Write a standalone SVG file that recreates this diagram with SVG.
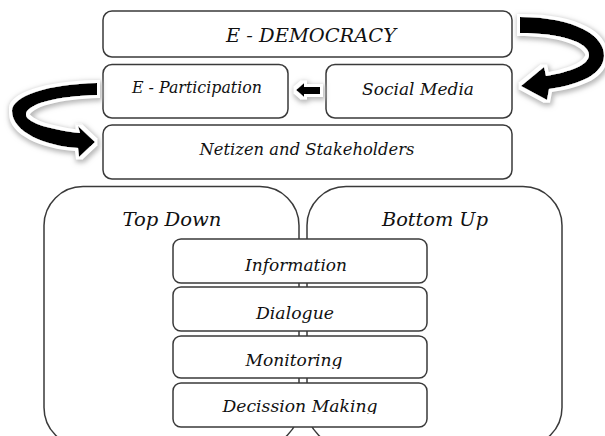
<svg xmlns="http://www.w3.org/2000/svg" width="605" height="436" viewBox="0 0 605 436">
<style>
.box{fill:#fff;stroke:#3a3a3a;stroke-width:1.5}
.big{fill:#fff;stroke:#3a3a3a;stroke-width:1.5}
.t{font-family:"DejaVu Serif","Liberation Serif",serif;font-style:italic;fill:#111;text-anchor:middle}
.arr{fill:#000}
</style>
<defs>
<filter id="glow" x="-30%" y="-30%" width="160%" height="160%">
<feMorphology in="SourceAlpha" operator="dilate" radius="4" result="d1"/>
<feOffset in="d1" dx="1" dy="2" result="o1"/>
<feGaussianBlur in="o1" stdDeviation="2.5" result="b1"/>
<feFlood flood-color="#b8b8b8" result="f1"/>
<feComposite in="f1" in2="b1" operator="in" result="shadow"/>
<feMorphology in="SourceAlpha" operator="dilate" radius="3" result="d2"/>
<feFlood flood-color="#ffffff" result="f2"/>
<feComposite in="f2" in2="d2" operator="in" result="white"/>
<feMerge><feMergeNode in="shadow"/><feMergeNode in="white"/><feMergeNode in="SourceGraphic"/></feMerge>
</filter>
<clipPath id="c1"><rect x="0" y="0" width="605" height="323"/></clipPath>
<clipPath id="c2"><rect x="0" y="0" width="605" height="369"/></clipPath>
<clipPath id="c3"><rect x="0" y="0" width="605" height="414"/></clipPath>
</defs>

<g id="top-down">
<rect class="big" x="44" y="186.5" width="255" height="260" rx="39"/>
<text class="t" x="172" y="226" font-size="18" textLength="99" lengthAdjust="spacingAndGlyphs">Top Down</text>
</g>
<g id="bottom-up">
<rect class="big" x="307" y="186.5" width="255" height="260" rx="39"/>
<text class="t" x="435" y="226" font-size="18" textLength="106" lengthAdjust="spacingAndGlyphs">Bottom Up</text>
</g>

<g id="e-democracy">
<rect class="box" x="103" y="11" width="409" height="46" rx="9"/>
<text class="t" x="311" y="42" font-size="19" textLength="170" lengthAdjust="spacingAndGlyphs">E - DEMOCRACY</text>
</g>
<g id="e-participation">
<rect class="box" x="103" y="64.5" width="185" height="53.5" rx="9"/>
<text class="t" x="197" y="93" font-size="16" textLength="130" lengthAdjust="spacingAndGlyphs">E - Participation</text>
</g>
<g id="social-media">
<rect class="box" x="326" y="64.5" width="186" height="53.5" rx="9"/>
<text class="t" x="418" y="95" font-size="17" textLength="112" lengthAdjust="spacingAndGlyphs">Social Media</text>
</g>
<g id="netizen">
<rect class="box" x="103" y="125" width="409" height="54" rx="9"/>
<text class="t" x="307" y="155" font-size="17" textLength="215" lengthAdjust="spacingAndGlyphs">Netizen and Stakeholders</text>
</g>

<g id="information">
<rect class="box" x="173" y="239" width="254" height="44" rx="8"/>
<text class="t" x="296" y="271" font-size="17" textLength="102" lengthAdjust="spacingAndGlyphs">Information</text>
</g>
<g id="dialogue">
<rect class="box" x="173" y="287" width="254" height="44" rx="8"/>
<text class="t" x="295" y="319" font-size="17" textLength="78" lengthAdjust="spacingAndGlyphs" clip-path="url(#c1)">Dialogue</text>
</g>
<g id="monitoring">
<rect class="box" x="173" y="336" width="254" height="42" rx="8"/>
<text class="t" x="294" y="366" font-size="17" textLength="97" lengthAdjust="spacingAndGlyphs" clip-path="url(#c2)">Monitoring</text>
</g>
<g id="decission-making">
<rect class="box" x="173" y="383" width="254" height="44" rx="8"/>
<text class="t" x="300" y="412" font-size="17" textLength="155" lengthAdjust="spacingAndGlyphs" clip-path="url(#c3)">Decission Making</text>
</g>

<g id="connectors" filter="url(#glow)">
<path class="arr" d="M520,17 C575,17 605,36 604,56 C603,74 582,84 549,89 L547,100 L521,86 L544,67 L546,76 C570,72 589,65 589,55 C589,42 560,33 520,33 Z"/>
<path class="arr" d="M97,83 C48,84 12,96 12,111 C12,132 45,146 78,148 L79,157 L95,142 L78,126 L80,133 C52,130 27,123 26,115 C25,104 58,96 97,95 Z"/>
<path class="arr" d="M296,90 L304,83 L304,87 L320,87 L320,94 L304,94 L304,97 Z"/>
</g>
</svg>
